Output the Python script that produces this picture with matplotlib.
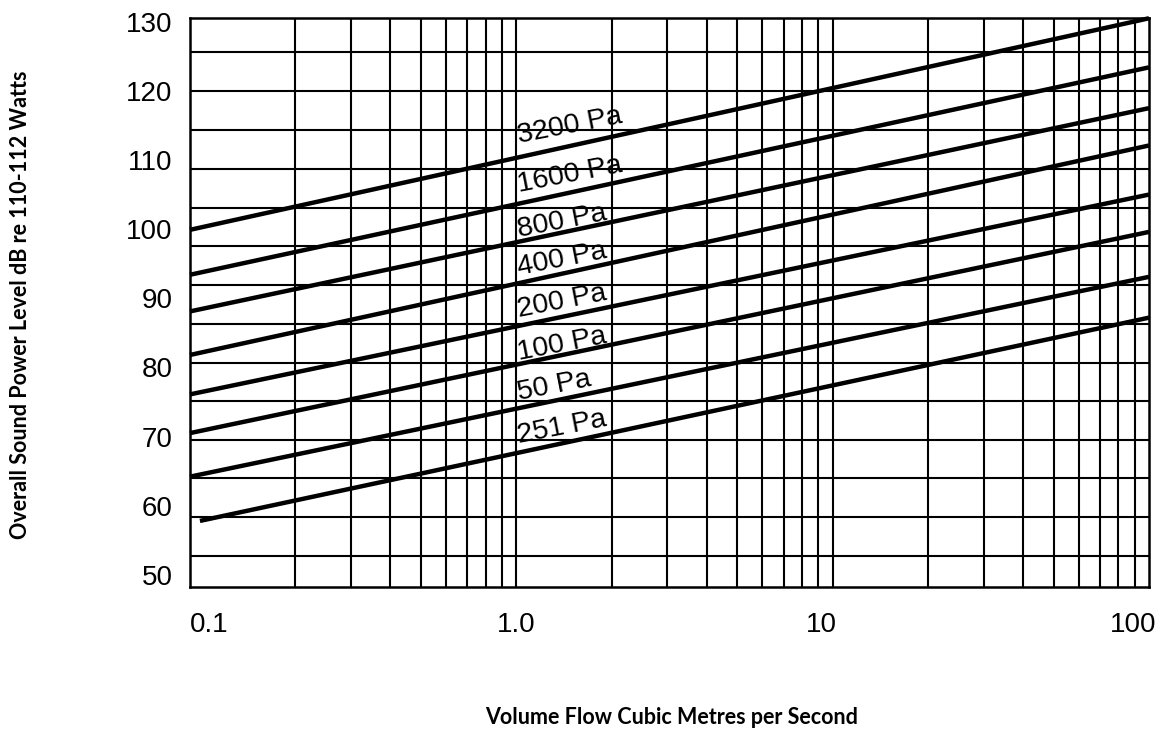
import numpy as np
import matplotlib
matplotlib.use('Agg')
import matplotlib.pyplot as plt
from matplotlib.transforms import ScaledTranslation

plt.rcParams['font.family'] = ['Liberation Sans', 'DejaVu Sans']

# fan pressure lines (label, start flow, level at start, level at 100 m3/s)
pressure_labels = ['3200 Pa', '1600 Pa', '800 Pa', '400 Pa', '200 Pa', '100 Pa', '50 Pa', '251 Pa']
flow_start = [0.093, 0.093, 0.093, 0.093, 0.093, 0.093, 0.093, 0.1]
flow_end = [100, 100, 100, 100, 100, 100, 100, 100]
level_start = [99.9, 93.4, 88.1, 81.8, 76.1, 70.5, 64.2, 57.8]
level_end = [130.5, 123.4, 117.5, 112.1, 105.0, 99.6, 93.1, 87.2]

# where the line labels sit
label_flow = 1.02
label_level = [112.4, 105.4, 98.9, 93.4, 87.35, 81.1, 75.3, 69.1]

# chart grid (horizontal lines are not on the labelled values)
h_grid = [125.6, 120.0, 114.3, 108.7, 103.0, 97.5, 91.9, 86.3, 80.7, 75.1, 69.5, 64.0, 58.3, 52.7]
v_grid = [m * d for d in [0.1, 1, 10] for m in range(2, 10)] + [1, 10]

x_ticks = [0.1, 1, 10, 100]
x_ticklabels = ['0.1', '1.0', '10', '100']
y_ticks = [50, 60, 70, 80, 90, 100, 110, 120, 130]

fig = plt.figure(figsize=(11.64, 7.31), dpi=100)
ax = fig.add_axes([0.1632, 0.1966, 0.8239, 0.7784])
ax.set_xscale('log')
ax.set_xlim(0.093, 100)
ax.set_ylim(48.2, 130.5)

for v in v_grid:
    ax.axvline(v, color='black', lw=1.5, zorder=1)
for h in h_grid:
    ax.axhline(h, color='black', lw=1.5, zorder=1)

for i in range(len(pressure_labels)):
    ax.plot([flow_start[i], flow_end[i]], [level_start[i], level_end[i]],
            color='black', lw=3.2, solid_capstyle='butt', zorder=3, clip_on=False)
    ax.text(label_flow, label_level[i], pressure_labels[i], fontsize=20.5,
            rotation=11, rotation_mode='anchor', ha='left', va='baseline', zorder=4)

for s in ax.spines.values():
    s.set_linewidth(1.8)

ax.set_xticks(x_ticks)
ax.set_xticklabels(x_ticklabels)
ax.xaxis.set_minor_locator(matplotlib.ticker.NullLocator())
ax.set_yticks(y_ticks)
ax.tick_params(axis='both', length=0, labelsize=20)
ax.tick_params(axis='x', pad=17.5)
ax.tick_params(axis='y', pad=12.5)

# the printed x labels are not quite centred on their lines
for lbl, dx in zip(ax.get_xticklabels(), [9, 0, -11, -16]):
    lbl.set_transform(lbl.get_transform() + ScaledTranslation(dx / 100, 0, fig.dpi_scale_trans))

fig.text(0.018, 0.583, 'Overall Sound Power Level dB re 110-112 Watts', rotation=90,
         ha='center', va='center', fontsize=15.5, fontweight='bold', family=['Lato', 'DejaVu Sans'])
fig.text(0.577, 0.019, 'Volume Flow Cubic Metres per Second', ha='center', va='center',
         fontsize=15.5, fontweight='bold', family=['Lato', 'DejaVu Sans'])

plt.savefig('out.png', dpi=100)
plt.close()
